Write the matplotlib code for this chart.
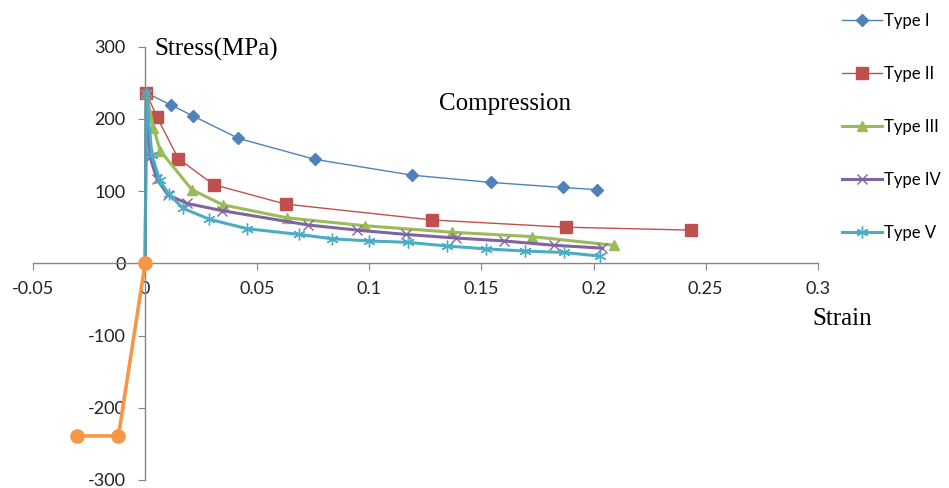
import numpy as np
import matplotlib.pyplot as plt

# strain / stress for each specimen type (compression branch)
x1 = [0, 0.0005, 0.0116, 0.0214, 0.0416, 0.0756, 0.1192, 0.1543, 0.1862, 0.2015]
y1 = [0, 236, 219, 204, 173, 144, 122, 112, 105, 102]
x2 = [0, 0.0005, 0.0052, 0.0148, 0.0305, 0.0626, 0.1281, 0.1877, 0.2433]
y2 = [0, 236, 203, 145, 109, 82, 60, 50, 46]
x3 = [0, 0.0005, 0.0037, 0.0067, 0.0208, 0.0346, 0.0632, 0.0981, 0.1370, 0.1724, 0.2092]
y3 = [0, 236, 188, 156, 102, 81, 63, 52, 43, 37, 25]
x4 = [0, 0.0005, 0.0022, 0.0052, 0.0101, 0.0186, 0.0342, 0.0728, 0.0944, 0.1164, 0.1387, 0.1600, 0.1823, 0.2039]
y4 = [0, 236, 147, 117, 95, 83, 73, 53, 46, 40, 35, 31, 25, 21]
x5 = [0, 0.0005, 0.0030, 0.0065, 0.0105, 0.0170, 0.0287, 0.0453, 0.0687, 0.0832, 0.0999, 0.1174, 0.1345, 0.1520, 0.1694, 0.1868, 0.2028]
y5 = [0, 236, 150, 115, 96, 76, 61, 48, 40, 34, 31, 29, 24, 20, 17, 15, 10]
# tension branch
xt = [0, -0.0119, -0.0302]
yt = [0, -239, -239]

labels = ["Type I", "Type II", "Type III", "Type IV", "Type V"]

fig = plt.figure(figsize=(9.49, 4.88), dpi=100)
ax = fig.add_axes([0.0348, 0.0164, 0.827, 0.888])

tick_font = "Lato"
serif = "Liberation Serif"

# origin point is shared with the tension curve, so no marker there
mk = slice(1, None)
ax.plot(x1, y1, color="#4F81BD", lw=1.0, marker="D", ms=6.5, markevery=mk, label=labels[0])
ax.plot(x2, y2, color="#C0504D", lw=1.0, marker="s", ms=8, markevery=mk, label=labels[1])
ax.plot(x3, y3, color="#9BBB59", lw=2.2, marker="^", ms=7.5, markevery=mk, label=labels[2])
ax.plot(x4, y4, color="#8064A2", lw=2.2, marker="x", ms=7.5, mew=1.0, markevery=mk, label=labels[3])
ax.plot(x5, y5, color="#4BACC6", lw=2.2, marker=(6, 2, 0), ms=8.5, mew=1.0, markevery=mk, label=labels[4])
ax.plot(xt, yt, color="#F79646", lw=2.6, marker="o", ms=9.5, zorder=5)

ax.set_xlim(-0.05, 0.3)
ax.set_ylim(-300, 300)
ax.set_xticks(np.arange(-0.05, 0.301, 0.05))
ax.set_xticklabels(["-0.05", "0", "0.05", "0.1", "0.15", "0.2", "0.25", "0.3"])
ax.set_yticks(np.arange(-300, 301, 100))
ax.set_yticklabels(["-300", "-200", "-100", "0", "100", "200", "300"])

for s in ["top", "right"]:
    ax.spines[s].set_visible(False)
ax.spines["left"].set_position(("data", 0))
ax.spines["bottom"].set_position(("data", 0))
for s in ["left", "bottom"]:
    ax.spines[s].set_color("#868686")
    ax.spines[s].set_linewidth(1.0)
ax.tick_params(axis="both", direction="out", length=5, color="#868686",
               labelsize=13, labelcolor="#222222")
ax.tick_params(axis="x", pad=8)
ax.tick_params(axis="y", pad=9)
for t in ax.get_xticklabels() + ax.get_yticklabels():
    t.set_fontfamily(tick_font)

ax.text(0.004, 296, "Stress(MPa)", fontsize=18, family=serif, va="center", ha="left")
ax.text(0.1605, 221, "Compression", fontsize=18, family=serif, va="center", ha="center")
ax.text(0.2974, -77, "Strain", fontsize=18, family=serif, va="center", ha="left")

leg = fig.legend(loc="upper left", bbox_to_anchor=(0.871, 1.005), frameon=False,
                 handlelength=2.45, handletextpad=0.1, labelspacing=2.22,
                 prop={"family": tick_font, "size": 12})

fig.savefig("out.png", dpi=100)
